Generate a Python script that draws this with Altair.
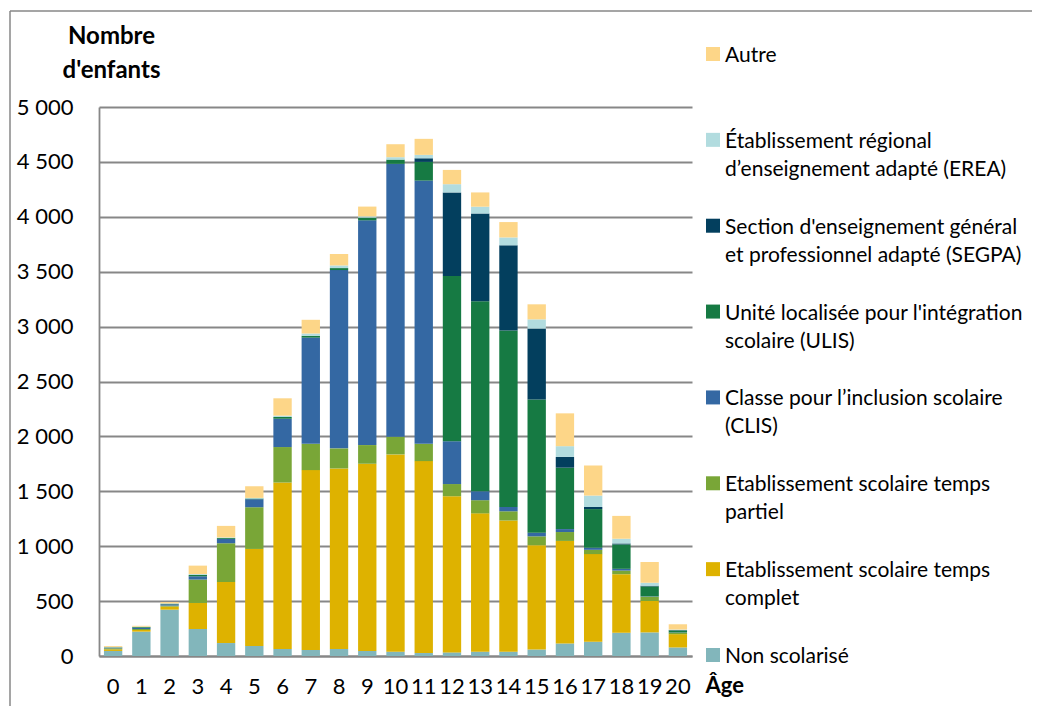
import altair as alt
import pandas as pd

ages = list(range(21))

non_scolarise = [46, 222, 422, 246, 118, 91, 64, 55, 64, 46, 39, 27, 33, 39, 39, 59, 114, 130, 212, 215, 78]
temps_complet = [15, 15, 28, 237, 556, 884, 1516, 1638, 1644, 1705, 1797, 1748, 1422, 1260, 1195, 950, 934, 798, 533, 286, 121]
temps_partiel = [9, 9, 9, 213, 353, 380, 323, 240, 183, 170, 161, 158, 111, 120, 84, 81, 81, 39, 33, 39, 13]
clis = [6, 12, 12, 30, 39, 73, 258, 967, 1624, 2047, 2485, 2397, 390, 81, 39, 33, 27, 19, 16, 3, 2]
ulis = [3, 6, 5, 12, 8, 6, 16, 16, 18, 24, 39, 170, 1504, 1732, 1608, 1214, 559, 352, 222, 91, 19]
segpa = [0, 0, 0, 0, 0, 0, 0, 0, 0, 0, 0, 33, 762, 798, 775, 645, 98, 19, 9, 6, 3]
erea = [2, 3, 3, 8, 6, 6, 12, 21, 24, 12, 22, 31, 75, 62, 72, 84, 98, 104, 43, 27, 5]
autre = [9, 8, 12, 77, 105, 106, 158, 125, 104, 89, 118, 146, 130, 130, 140, 137, 299, 274, 208, 189, 48]

# stacking order, bottom to top
categories = [
    "Non scolarisé",
    "Etablissement scolaire temps complet",
    "Etablissement scolaire temps partiel",
    "Classe pour l’inclusion scolaire (CLIS)",
    "Unité localisée pour l'intégration scolaire (ULIS)",
    "Section d'enseignement général et professionnel adapté (SEGPA)",
    "Établissement régional d’enseignement adapté (EREA)",
    "Autre",
]
series = [non_scolarise, temps_complet, temps_partiel, clis, ulis, segpa, erea, autre]
colors = ["#82B6BB", "#DEB200", "#79A637", "#3468A3", "#167A43", "#033F5E", "#B2DCDF", "#FDD688"]

legend_labels = [
    "Non scolarisé",
    "Etablissement scolaire temps\ncomplet",
    "Etablissement scolaire temps\npartiel",
    "Classe pour l’inclusion scolaire\n(CLIS)",
    "Unité localisée pour l'intégration\nscolaire (ULIS)",
    "Section d'enseignement général\net professionnel adapté (SEGPA)",
    "Établissement régional\nd’enseignement adapté (EREA)",
    "Autre",
]

y_ticks = [0, 500, 1000, 1500, 2000, 2500, 3000, 3500, 4000, 4500, 5000]

rows = []
for i, (cat, vals) in enumerate(zip(categories, series)):
    for a, v in zip(ages, vals):
        rows.append({"age": a, "categorie": cat, "valeur": v, "ordre": i})
df = pd.DataFrame(rows)

leg = pd.DataFrame({
    "categorie": categories,
    "label": legend_labels,
    "pos": [7 - i for i in range(len(categories))],
})

FONT = "Lato"
GRAY = "#878787"

color_scale = alt.Scale(domain=categories, range=colors)

bars = alt.Chart(df).mark_bar().encode(
    x=alt.X(
        "age:O",
        sort=ages,
        scale=alt.Scale(paddingInner=0.35, paddingOuter=0.175),
        axis=alt.Axis(
            title="Âge",
            titleFontSize=22,
            titleFontWeight="bold",
            titleX=606,
            titleY=36,
            titleAlign="left",
            titleBaseline="alphabetic",
            labelAngle=0,
            labelFontSize=22,
            labelPadding=20,
            labelColor="#000000",
            ticks=False,
            tickSize=0,
            domainColor=GRAY,
            domainWidth=1.8,
            grid=False,
        ),
    ),
    y=alt.Y(
        "valeur:Q",
        stack="zero",
        scale=alt.Scale(domain=[0, 5000], nice=False),
        axis=alt.Axis(
            values=y_ticks,
            labelExpr="replace(format(datum.value, ','), ',', ' ')",
            title=["Nombre", "d'enfants"],
            titleAngle=0,
            titleFontSize=24,
            titleFontWeight="bold",
            titleX=12,
            titleY=-64,
            titleAlign="center",
            titleBaseline="alphabetic",
            titleLineHeight=34,
            labelFontSize=22,
            labelPadding=26,
            labelColor="#000000",
            ticks=False,
            tickSize=0,
            domainColor=GRAY,
            domainWidth=1.8,
            gridColor=GRAY,
            gridWidth=1.8,
        ),
    ),
    color=alt.Color("categorie:N", scale=color_scale, legend=None),
    order=alt.Order("ordre:Q", sort="ascending"),
)

leg_y = alt.Y("pos:Q", scale=alt.Scale(domain=[0, 7], range=[-53, 548]), axis=None)

leg_sq = alt.Chart(leg).mark_square(size=196, opacity=1).encode(
    x=alt.value(614),
    y=leg_y,
    color=alt.Color("categorie:N", scale=color_scale, legend=None),
)

leg_txt = alt.Chart(leg).mark_text(
    align="left", baseline="alphabetic", fontSize=21, lineHeight=28,
    lineBreak="\n", dy=8, font=FONT, color="#000000",
).encode(
    x=alt.value(626),
    y=leg_y,
    text="label:N",
)

frame = pd.DataFrame({"k": [0]})
frame_top = alt.Chart(frame).mark_rule(color=GRAY, strokeWidth=1.5).encode(
    x=alt.value(-89), x2=alt.value(1000), y=alt.value(-96)
)
frame_left = alt.Chart(frame).mark_rule(color=GRAY, strokeWidth=1.5).encode(
    x=alt.value(-89), y=alt.value(-96), y2=alt.value(700)
)

chart = alt.layer(bars, leg_sq, leg_txt, frame_top, frame_left).resolve_scale(
    y="independent"
).properties(
    width=593,
    height=549,
    autosize=alt.AutoSizeParams(type="none"),
    padding={"left": 91, "top": 99, "right": 340, "bottom": 50},
).configure(
    font=FONT,
).configure_view(
    stroke=None,
).configure_axis(
    labelFont=FONT,
    titleFont=FONT,
    titleColor="#000000",
)

chart.save("out.html", embed_options={"renderer": "svg", "actions": False})
